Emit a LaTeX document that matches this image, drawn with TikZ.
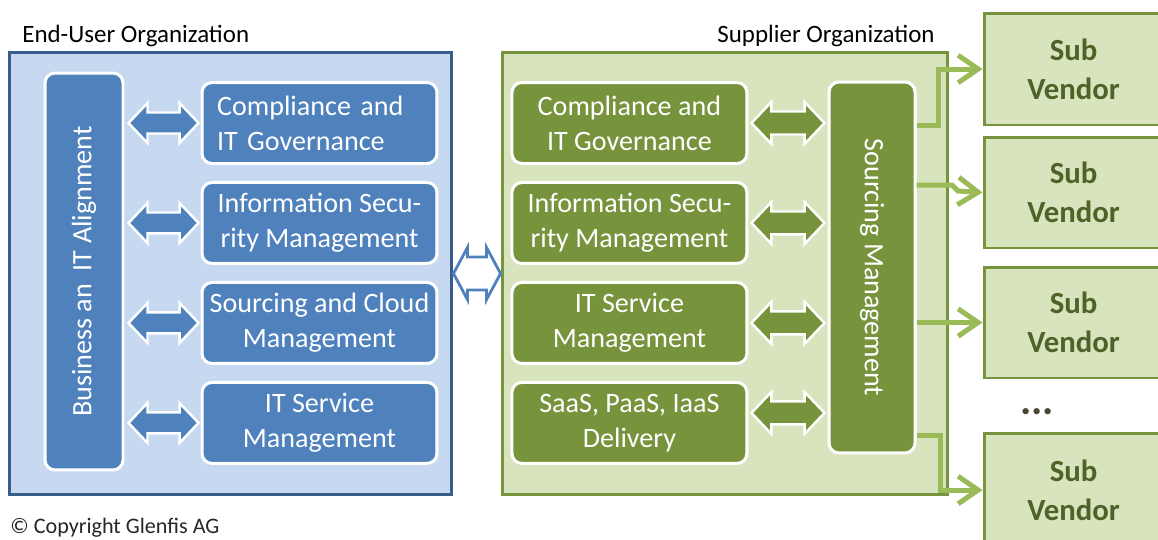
\documentclass[tikz,border=0pt]{standalone}
\usepackage{fontspec}
\setmainfont{Carlito}
\usetikzlibrary{
  calc,
  positioning,
  arrows.meta
}

\definecolor{bluefill}{HTML}{4F81BD}
\definecolor{bluelight}{HTML}{C6D9F1}
\definecolor{blueline}{HTML}{385D8A}
\definecolor{greenfill}{HTML}{77933C}
\definecolor{greenlight}{HTML}{D7E4BD}
\definecolor{greenline}{HTML}{9BBB59}
\definecolor{vendortext}{HTML}{4F6228}
\definecolor{dotcolor}{HTML}{4A4630}

\tikzset{
  org/.style={draw, line width=1.7pt, minimum width=8.86cm, minimum height=8.86cm},
  euorg/.style={org, draw=blueline, fill=bluelight},
  suporg/.style={org, draw=greenfill, fill=greenlight, minimum width=8.92cm},
  unit/.style={draw=white, line width=1.7pt, rounded corners=0.2cm, text=white,
    minimum width=4.7cm, minimum height=1.62cm, align=center, inner sep=0pt,
    font=\fontsize{16}{20}\selectfont},
  eubox/.style={unit, fill=bluefill},
  supbox/.style={unit, fill=greenfill},
  vendor/.style={draw=greenfill, fill=greenlight, line width=1.7pt, minimum width=3.58cm,
    text=vendortext, align=center, font=\fontsize{17.5}{22}\selectfont\bfseries},
  eulink/.style={fill=bluefill, draw=white, line width=1.4pt},
  suplink/.style={fill=greenfill, draw=white, line width=1.4pt},
  hollow/.style={fill=white, draw=bluefill, line width=1.6pt},
  feed/.style={draw=greenline, line width=0.1cm, -{Straight Barb[length=0.4cm,width=0.55cm]}},
  orgtitle/.style={font=\fontsize{14.2}{17}\selectfont, inner sep=0pt}
}

% style, from, to, head length, head half width, shaft half width
\newcommand{\dblarrow}[6]{%
  \path[#1] let \p1=(#2), \p2=(#3) in
    (\x1,\y1) -- (\x1+#4,\y1+#5) -- (\x1+#4,\y1+#6) -- (\x2-#4,\y1+#6)
    -- (\x2-#4,\y1+#5) -- (\x2,\y1) -- (\x2-#4,\y1-#5) -- (\x2-#4,\y1-#6)
    -- (\x1+#4,\y1-#6) -- (\x1+#4,\y1-#5) -- cycle;}

\begin{document}
\begin{tikzpicture}[x=0.02cm, y=-0.02cm]
  \useasboundingbox (0,0) rectangle (1158,539);
  \clip (0,0) rectangle (1158,539);

  \node[orgtitle, anchor=base west] (eut) at (22,42) {End-User Organization};
  \node[orgtitle, anchor=base east] (supt) at (935,42) {Supplier Organization};
  \node[euorg] (eu) at (230.5,273.5) {};
  \node[suporg] (sup) at (725,273.5) {};

  \node[eubox, rotate=90, minimum width=7.94cm, minimum height=1.56cm] (ba) at (84,271.5) {Business an\ \ IT Alignment};
  \node[eubox, text width=4.1cm, align=left] (eu1) at (319.5,123) {Compliance and\\IT Governance};
  \node[eubox, below=0.32cm of eu1] (eu2) {Information Secu-\\rity Management};
  \node[eubox, below=0.32cm of eu2] (eu3) {Sourcing and Cloud\\Management};
  \node[eubox, below=0.32cm of eu3] (eu4) {IT Service\\Management};

  \node[supbox, right=1.44cm of eu1] (sup1) {Compliance and\\IT Governance};
  \node[supbox, right=1.44cm of eu2] (sup2) {Information Secu-\\rity Management};
  \node[supbox, right=1.44cm of eu3] (sup3) {IT Service\\Management};
  \node[supbox, right=1.44cm of eu4] (sup4) {SaaS, PaaS, IaaS\\Delivery};
  \node[supbox, rotate=-90, minimum width=7.42cm, minimum height=1.72cm] (sm) at (872,267.5) {Sourcing Management};

  \node[vendor, minimum height=2.24cm] (sv1) at (1073.5,69) {Sub\\Vendor};
  \node[vendor, minimum height=2.22cm] (sv2) at (1073.5,192.5) {Sub\\Vendor};
  \node[vendor, minimum height=2.22cm] (sv3) at (1073.5,322.5) {Sub\\Vendor};
  \node[vendor, minimum height=2.28cm] (sv4) at (1073.5,490) {Sub\\Vendor};
  \node[anchor=base, text=dotcolor, font=\fontsize{24}{26}\selectfont\bfseries] (more) at (1037,414) {...};

  \node[anchor=base west, inner sep=0pt, text=black!85, font=\fontsize{12.6}{15}\selectfont] (copy) at (10,533) {\textcopyright{} Copyright Glenfis AG};

  \foreach \i in {1,...,4}
    \dblarrow{eulink}{$(ba.south |- eu\i.west)+(4,0)$}{$(eu\i.west)+(-2,0)$}{0.38cm}{0.4cm}{0.21cm};
  \foreach \i/\dy in {1/0,2/0,3/0,4/-10}
    \dblarrow{suplink}{$(sup\i.east)+(3,\dy)$}{$(sm.south |- sup\i.east)+(-3,0)$}{0.4cm}{0.42cm}{0.23cm};
  \dblarrow{hollow}{eu.east}{sup.west}{0.28cm}{0.52cm}{0.33cm};

  \draw[feed] (sm.north |- 0,125) -| (938,0 |- sv1.west) -- (sv1.west);
  \draw[feed] (sm.north |- 0,185) -- (952,185) -- (958,191) -- (sv2.west);
  \draw[feed] (sm.north |- sv3.west) -- (sv3.west);
  \draw[feed] (sm.north |- 0,435) -| (940,0 |- sv4.west) -- (sv4.west);
\end{tikzpicture}
\end{document}
